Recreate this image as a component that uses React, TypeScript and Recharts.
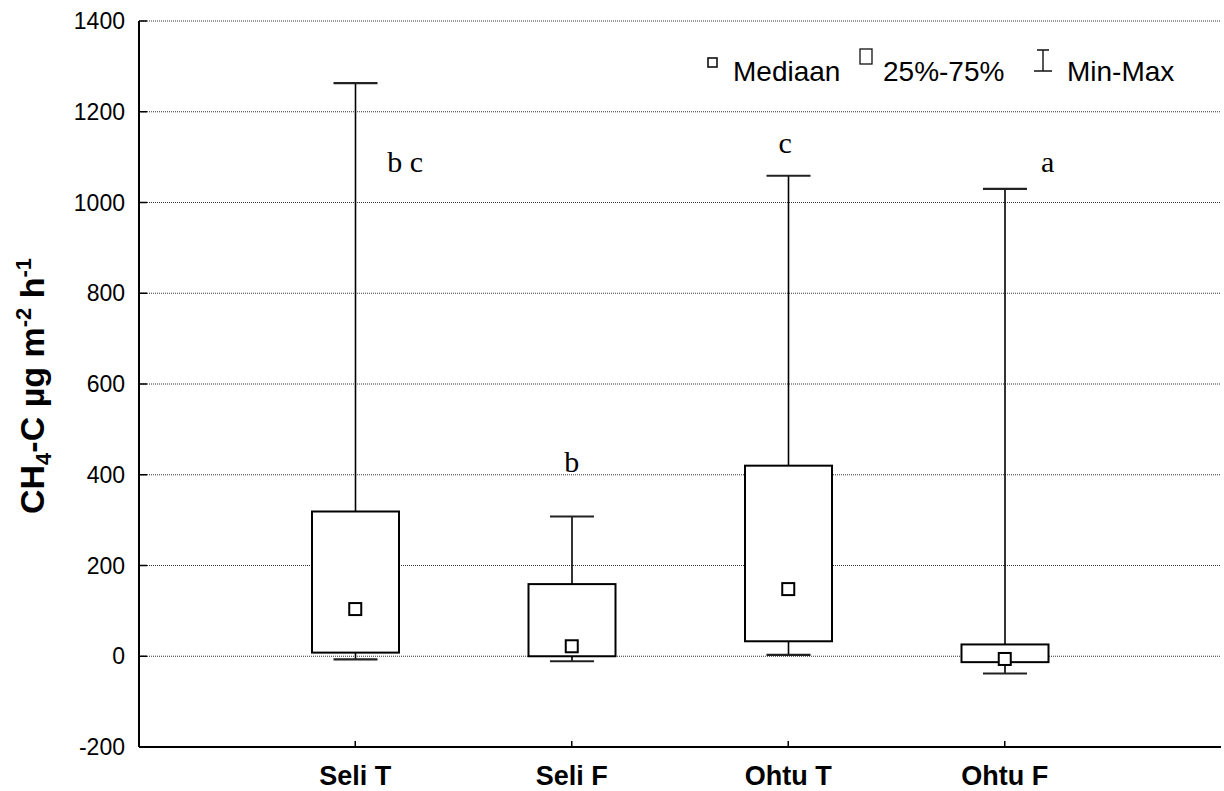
import React from 'react';
import { ComposedChart, Bar, Scatter, XAxis, YAxis, CartesianGrid, Label } from 'recharts';

// Box plot summary per site (CH4-C flux, µg m-2 h-1)
const CATEGORIES = ['Seli T', 'Seli F', 'Ohtu T', 'Ohtu F'];
const MIN_VALUES = [-7, -11, 3, -38];
const Q1_VALUES = [8, 0, 33, -13];
const MEDIAN_VALUES = [104, 22, 148, -6];
const Q3_VALUES = [319, 159, 420, 26];
const MAX_VALUES = [1263, 308, 1059, 1030];

// significance letters and the value where their baseline sits
const LETTERS = ['b c', 'b', 'c', 'a'];
const LETTER_VALUES = [1067, 407, 1109, 1067];

const Y_TICKS = [-200, 0, 200, 400, 600, 800, 1000, 1200, 1400];

// horizontal nudge of the letters (layout only)
const LETTER_DX = [50, 0, -3, 43];

const SANS = '"Liberation Sans", Arial, sans-serif';
const SERIF = '"Liberation Serif", "Times New Roman", serif';

const rows = CATEGORIES.map((name, i) => ({
  name,
  min: MIN_VALUES[i],
  q1: Q1_VALUES[i],
  median: MEDIAN_VALUES[i],
  q3: Q3_VALUES[i],
  max: MAX_VALUES[i],
  letter: LETTERS[i],
  letterY: LETTER_VALUES[i],
  idx: i,
}));

// the bar spans min..max, so the rest of the box follows the same linear scale
const BoxShape = (props: any) => {
  const { x, y, width, height, payload } = props;
  if (x == null || y == null) return null;
  const top = Math.min(y, y + height);
  const bottom = Math.max(y, y + height);
  const span = payload.max - payload.min;
  const pix = (v: number) => bottom - ((v - payload.min) / span) * (bottom - top);
  const cx = x + width / 2;
  const cap = 22;
  return (
    <g>
      <line x1={cx} x2={cx} y1={pix(payload.max)} y2={pix(payload.q3)} stroke="#000" strokeWidth={1.6} />
      <line x1={cx} x2={cx} y1={pix(payload.q1)} y2={pix(payload.min)} stroke="#000" strokeWidth={1.6} />
      <line x1={cx - cap} x2={cx + cap} y1={pix(payload.max)} y2={pix(payload.max)} stroke="#222" strokeWidth={2.2} />
      <line x1={cx - cap} x2={cx + cap} y1={pix(payload.min)} y2={pix(payload.min)} stroke="#222" strokeWidth={2.2} />
      <rect
        x={x}
        y={pix(payload.q3)}
        width={width}
        height={pix(payload.q1) - pix(payload.q3)}
        fill="#fff"
        stroke="#000"
        strokeWidth={2}
      />
    </g>
  );
};

const MedianShape = (props: any) => {
  const { cx, cy } = props;
  if (cx == null || cy == null) return null;
  return <rect x={cx - 6} y={cy - 6} width={12} height={12} fill="#fff" stroke="#000" strokeWidth={2} />;
};

const LetterShape = (props: any) => {
  const { cx, cy, payload } = props;
  if (cx == null || cy == null) return null;
  return (
    <text x={cx + LETTER_DX[payload.idx]} y={cy} textAnchor="middle" fontFamily={SERIF} fontSize={30} fill="#000">
      {payload.letter}
    </text>
  );
};

const YTick = (props: any) => {
  const { x, y, payload } = props;
  return (
    <g>
      <text x={x} y={y} dy="0.355em" textAnchor="end" fontFamily={SANS} fontSize={23} fill="#000">
        {payload.value}
      </text>
      <line x1={x + 14} x2={x + 22} y1={y} y2={y} stroke="#000" strokeWidth={1.5} />
    </g>
  );
};

const XTick = (props: any) => {
  const { x, y, payload } = props;
  return (
    <g>
      <text x={x} y={y} dy="0.71em" textAnchor="middle" fontFamily={SANS} fontWeight="bold" fontSize={27} fill="#000">
        {payload.value}
      </text>
      <line x1={x} x2={x} y1={y - 19} y2={y - 25} stroke="#000" strokeWidth={1.5} />
    </g>
  );
};

const YTitle = () => (
  <text
    x={44}
    y={386}
    transform="rotate(-90 44 386)"
    textAnchor="middle"
    fontFamily={SANS}
    fontWeight="bold"
    fontSize={34}
    fill="#000"
  >
    CH<tspan fontSize={22} dy={7}>4</tspan>
    <tspan dy={-7}>-C µg m</tspan>
    <tspan fontSize={22} dy={-13}>-2</tspan>
    <tspan dy={13}> h</tspan>
    <tspan fontSize={22} dy={-13}>-1</tspan>
  </text>
);

const LegendBox = () => (
  <svg width={1224} height={100} style={{ position: 'absolute', left: 0, top: 0, pointerEvents: 'none' }}>
    <rect x={708} y={58} width={9} height={9} fill="#fff" stroke="#111" strokeWidth={1.6} />
    <text x={733} y={81} fontFamily={SANS} fontSize={28} fill="#000">Mediaan</text>
    <rect x={860} y={49} width={12} height={15} fill="#fff" stroke="#111" strokeWidth={1.3} />
    <text x={883} y={81} fontFamily={SANS} fontSize={28} fill="#000">25%-75%</text>
    <path d="M1037 50 H1049 M1043 50 V71 M1034 71 H1052" stroke="#111" strokeWidth={1.4} fill="none" />
    <text x={1067} y={81} fontFamily={SANS} fontSize={28} fill="#000">Min-Max</text>
  </svg>
);

export default function App() {
  return (
    <div style={{ position: 'absolute', left: 0, top: 0, width: 1224, height: 791, background: '#fff' }}>
      <ComposedChart width={1224} height={791} data={rows} margin={{ top: 21, right: 3, bottom: 0, left: 0 }}>
        <CartesianGrid vertical={false} stroke="#333" strokeDasharray="1 1" />
        <XAxis
          dataKey="name"
          type="category"
          interval={0}
          padding={{ left: 108, right: 108 }}
          height={44}
          tickSize={0}
          tickMargin={19}
          tick={XTick}
          axisLine={{ stroke: '#000', strokeWidth: 2 }}
        />
        <XAxis
          xAxisId="top"
          orientation="top"
          dataKey="name"
          height={0}
          tick={false}
          tickLine={false}
          axisLine={{ stroke: '#000', strokeWidth: 2 }}
        />
        <YAxis
          domain={[-200, 1400]}
          ticks={Y_TICKS}
          width={139}
          tickSize={0}
          tickMargin={14}
          tick={YTick}
          axisLine={{ stroke: '#000', strokeWidth: 2 }}
        >
          <Label content={YTitle} />
        </YAxis>
        <YAxis
          yAxisId="right"
          orientation="right"
          domain={[-200, 1400]}
          width={0}
          tick={false}
          tickLine={false}
          axisLine={{ stroke: '#000', strokeWidth: 2 }}
        />
        <Bar dataKey={(d: any) => [d.min, d.max]} barSize={87} shape={BoxShape} isAnimationActive={false} />
        <Scatter dataKey="median" shape={MedianShape} isAnimationActive={false} />
        <Scatter dataKey="letterY" shape={LetterShape} isAnimationActive={false} />
      </ComposedChart>
      <LegendBox />
    </div>
  );
}
